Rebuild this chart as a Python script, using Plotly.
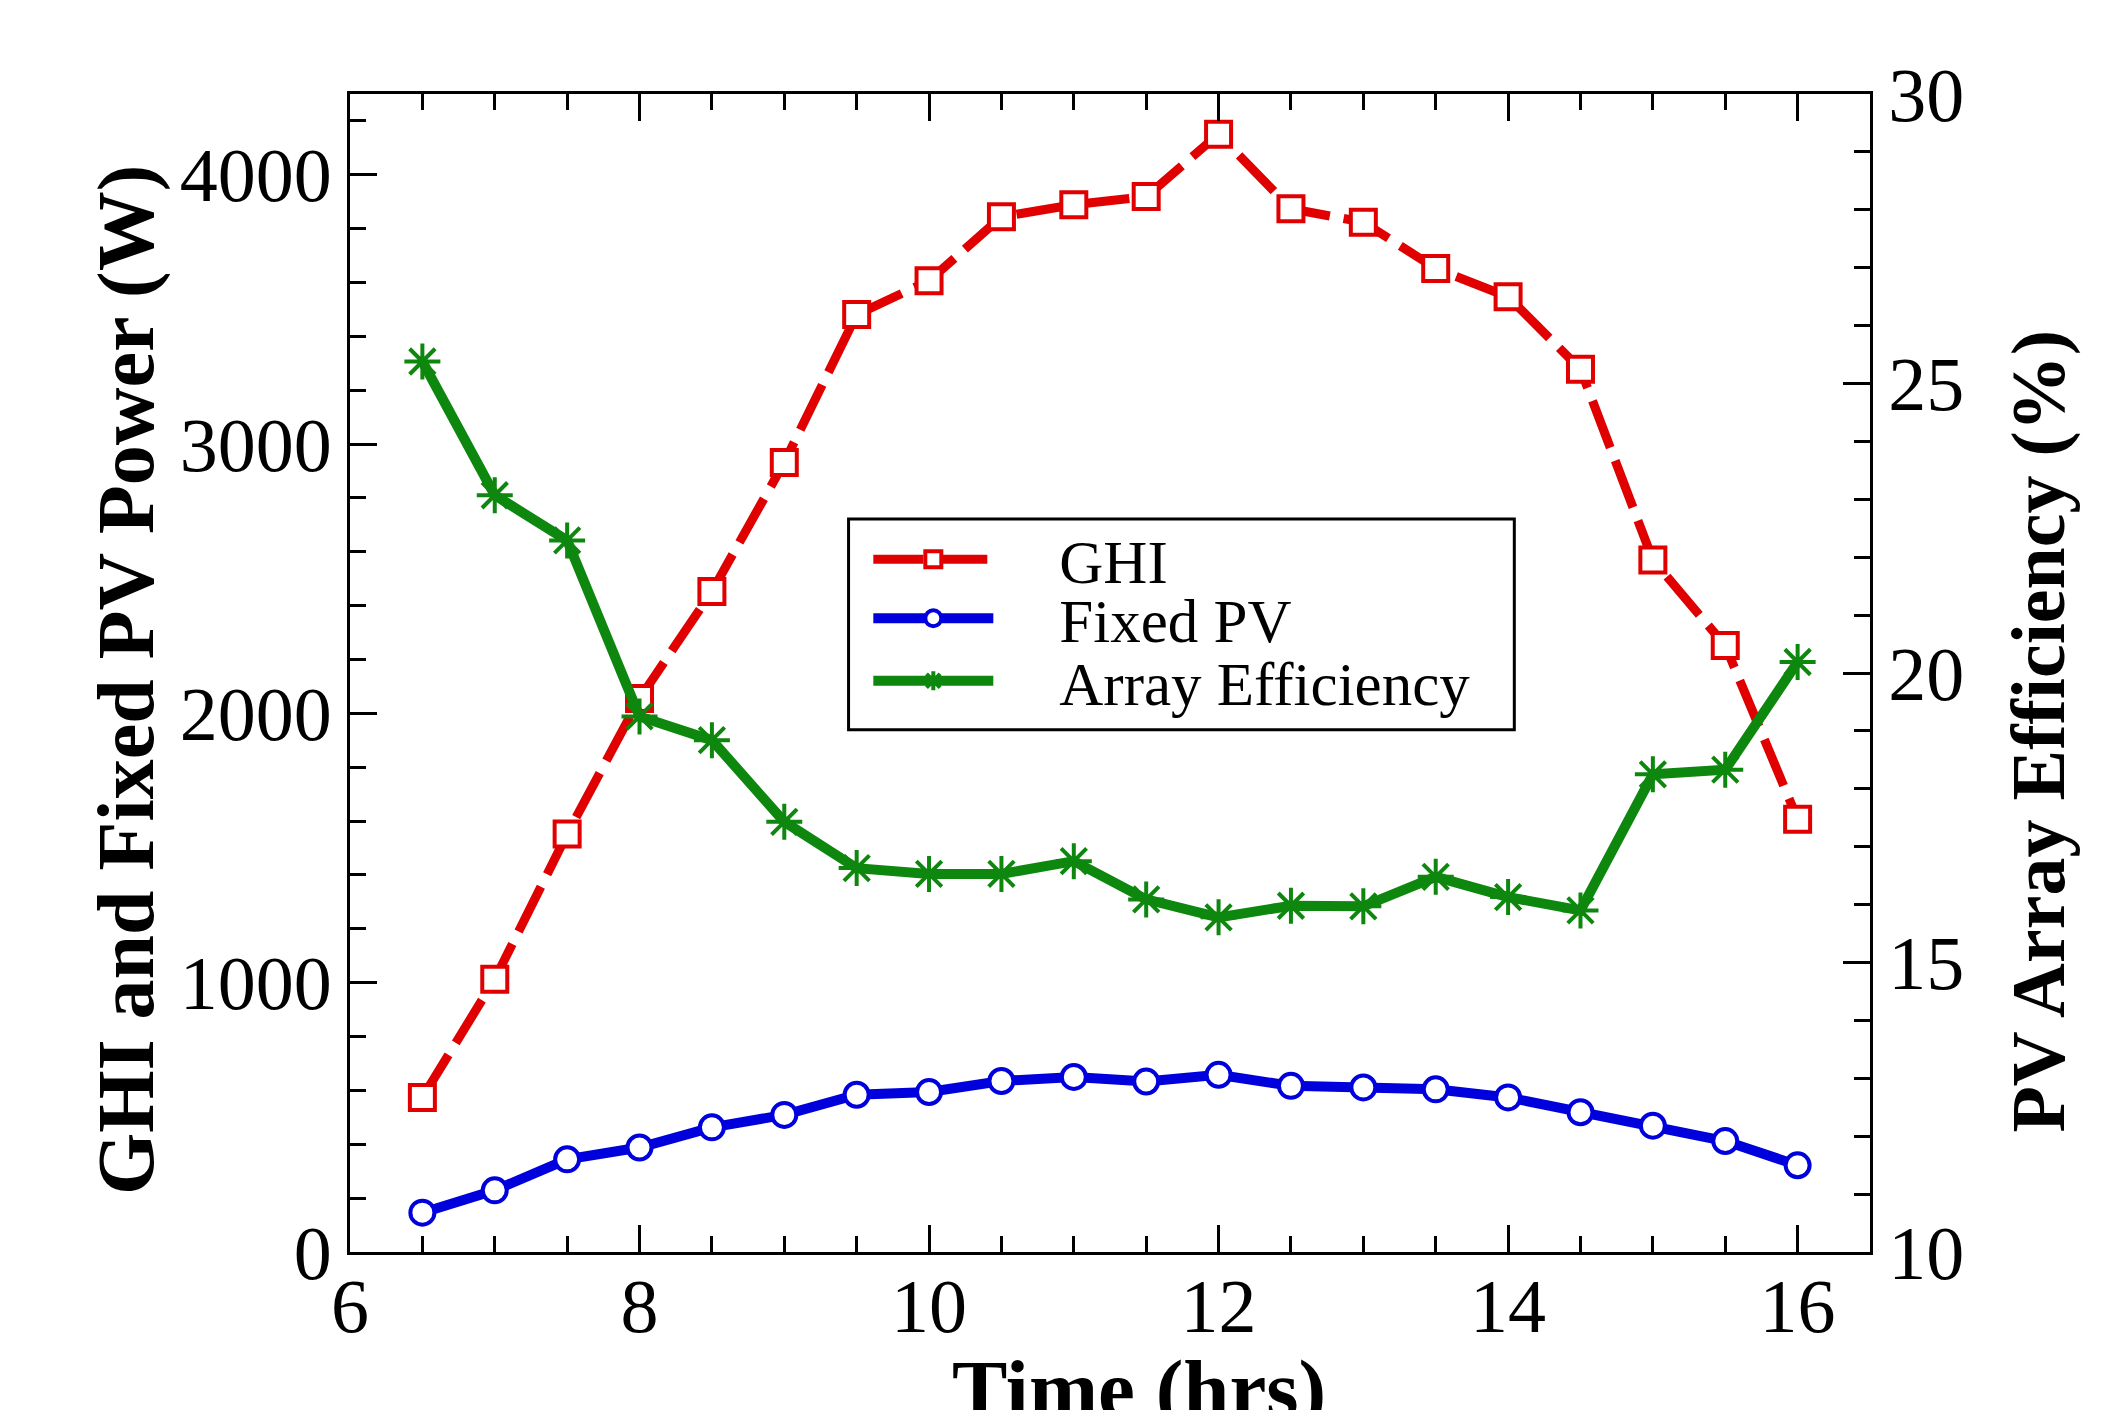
import plotly.graph_objects as go

# ---- data ----
time_hrs = [6.5, 7.0, 7.5, 8.0, 8.5, 9.0, 9.5, 10.0, 10.5, 11.0,
            11.5, 12.0, 12.5, 13.0, 13.5, 14.0, 14.5, 15.0, 15.5, 16.0]
ghi_w = [574, 1013, 1552, 2055, 2453, 2932, 3481, 3607, 3844, 3889,
         3919, 4151, 3874, 3824, 3652, 3547, 3278, 2570, 2252, 1607]
fixed_pv_w = [146, 229, 344, 388, 463, 509, 584, 594, 635, 650,
              633, 658, 617, 611, 604, 574, 519, 469, 412, 322]
array_eff_pct = [25.38, 23.07, 22.29, 19.25, 18.84, 17.43, 16.63, 16.53, 16.53, 16.75,
                 16.09, 15.78, 15.98, 15.97, 16.48, 16.13, 15.90, 18.25, 18.33, 20.19]

series_names = ["GHI", "Fixed PV", "Array Efficiency"]
x_ticks = [6, 8, 10, 12, 14, 16]
y_ticks = [0, 1000, 2000, 3000, 4000]
y2_ticks = [10, 15, 20, 25, 30]

RED = "#e00000"
BLUE = "#0000dd"
GREEN = "#0e870e"
SERIF = "Liberation Serif, Times New Roman, serif"
PAD = "\u00a0" * 4

fig = go.Figure()

fig.add_trace(go.Scatter(
    x=time_hrs, y=ghi_w, name=PAD + series_names[0], mode="lines+markers",
    legend="legend",
    line=dict(color=RED, width=9, dash="50px,14px"),
    marker=dict(symbol="square", size=25, color="white",
                line=dict(color=RED, width=4)),
))
fig.add_trace(go.Scatter(
    x=time_hrs, y=fixed_pv_w, name=PAD + series_names[1], mode="lines+markers",
    legend="legend2",
    line=dict(color=BLUE, width=10),
    marker=dict(symbol="circle", size=24, color="white",
                line=dict(color=BLUE, width=4)),
))
fig.add_trace(go.Scatter(
    x=time_hrs, y=array_eff_pct, name=PAD + series_names[2], mode="lines+markers",
    yaxis="y2", legend="legend3",
    line=dict(color=GREEN, width=10),
    marker=dict(symbol="asterisk-open", size=30, color=GREEN,
                line=dict(color=GREEN, width=4)),
))

axis_common = dict(
    showline=True, linecolor="black", linewidth=3,
    ticks="inside", ticklen=27, tickwidth=3, tickcolor="black",
    showgrid=False, zeroline=False,
    tickfont=dict(family=SERIF, size=76, color="black"),
)

legend_common = dict(
    x=0.341, xanchor="left", yanchor="middle",
    bgcolor="rgba(0,0,0,0)", borderwidth=0,
    font=dict(family=SERIF, size=61, color="black"),
    itemwidth=120,
)

fig.update_layout(
    width=2123, height=1410,
    margin=dict(l=342, r=261, t=86, b=166),
    paper_bgcolor="white", plot_bgcolor="white",
    font=dict(family=SERIF, color="black"),
    showlegend=True,
    legend=dict(y=0.598, **legend_common),
    legend2=dict(y=0.547, **legend_common),
    legend3=dict(y=0.493, **legend_common),
    shapes=[
        dict(type="rect", xref="paper", yref="paper",
             x0=0.328, x1=0.766, y0=0.451, y1=0.633,
             line=dict(color="black", width=3), fillcolor="white", layer="below"),
    ],
    xaxis=dict(
        range=[6, 16.5], tickvals=x_ticks, mirror="ticks",
        ticklabelstandoff=-14,
        minor=dict(dtick=0.5, tick0=6, ticks="inside", ticklen=16,
                   tickwidth=3, tickcolor="black"),
        **axis_common,
    ),
    yaxis=dict(
        range=[0, 4300], tickvals=y_ticks,
        minor=dict(dtick=200, tick0=0, ticks="inside", ticklen=16,
                   tickwidth=3, tickcolor="black"),
        **axis_common,
    ),
    yaxis2=dict(
        range=[10, 30], tickvals=y2_ticks, overlaying="y", side="right",
        minor=dict(dtick=1, tick0=10, ticks="inside", ticklen=16,
                   tickwidth=3, tickcolor="black"),
        **axis_common,
    ),
    annotations=[
        dict(text="<b>Time (hrs)</b>", xref="paper", yref="paper",
             x=0.519, y=-0.118, xanchor="center", yanchor="middle",
             showarrow=False, font=dict(family=SERIF, size=83, color="black")),
        dict(text="<b>GHI and Fixed PV Power (W)</b>", xref="paper", yref="paper",
             x=-0.1467, y=0.494, xanchor="center", yanchor="middle", textangle=-90,
             showarrow=False, font=dict(family=SERIF, size=80, color="black")),
        dict(text="<b>PV Array Efficiency (%)</b>", xref="paper", yref="paper",
             x=1.111, y=0.45, xanchor="center", yanchor="middle", textangle=-90,
             showarrow=False, font=dict(family=SERIF, size=76, color="black")),
    ],
)

fig.write_html("out.html")
